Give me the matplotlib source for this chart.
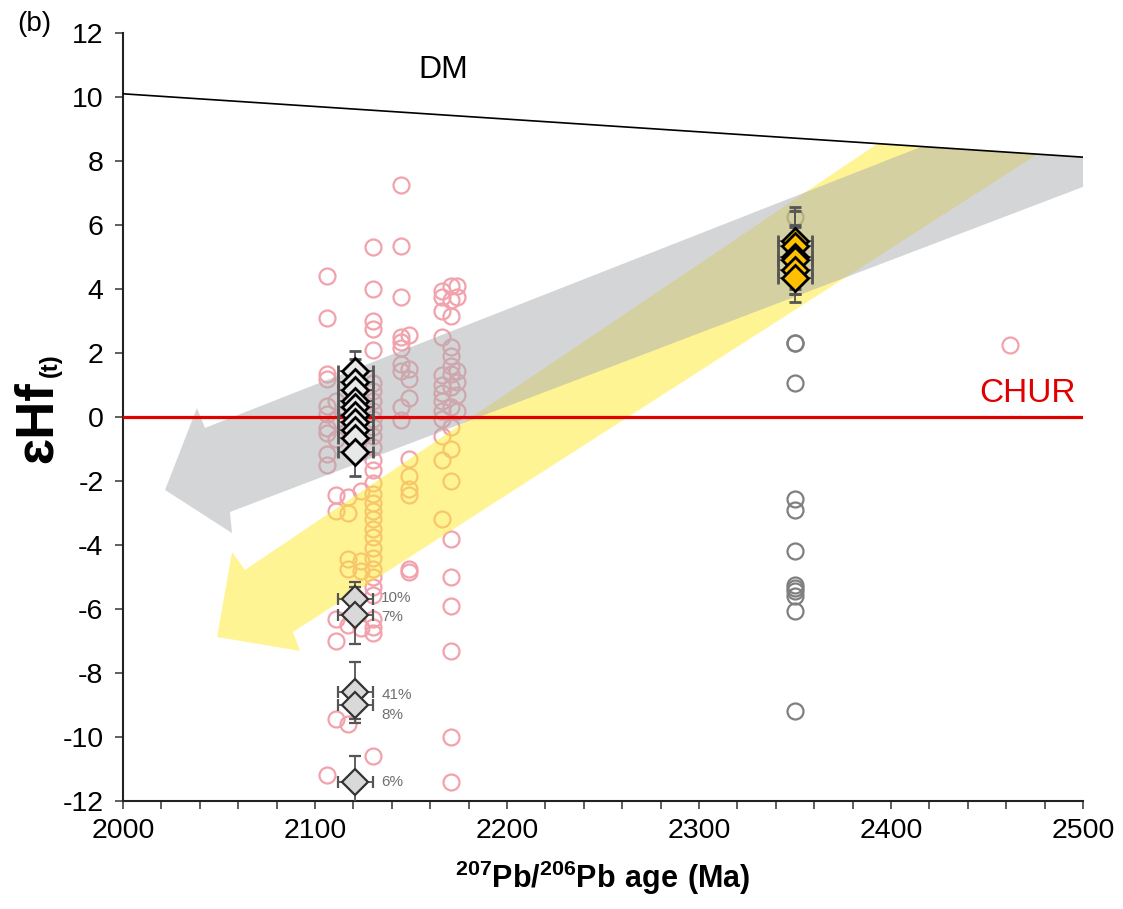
import numpy as np
import matplotlib
matplotlib.use("Agg")
import matplotlib.pyplot as plt
from matplotlib.patches import Polygon

plt.rcParams['font.family'] = ['Liberation Sans', 'DejaVu Sans']
plt.rcParams['mathtext.fontset'] = 'custom'
plt.rcParams['mathtext.rm'] = 'Liberation Sans'
plt.rcParams['mathtext.bf'] = 'Liberation Sans:bold'
plt.rcParams['axes.unicode_minus'] = False

# Pink open circles: zircon Hf data (age, eHf)
PINK_X = ([2106] * 11 + [2111] * 8 + [2117] * 6 + [2124] * 4 + [2130] * 32
          + [2145] * 10 + [2149] * 10 + [2166] * 13 + [2171] * 18 + [2174] * 6 + [2462])
PINK_Y = ([4.4, 3.1, 1.35, 1.2, 0.35, 0.1, -0.35, -0.5, -1.15, -1.5, -11.2]
          + [0.5, -0.1, -0.7, -2.45, -2.95, -6.3, -7.0, -9.45]
          + [-2.5, -3.0, -4.45, -4.75, -6.5, -9.6]
          + [-2.3, -4.5, -4.8, -6.6]
          + [5.3, 4.0, 3.0, 2.75, 2.1, 1.05, 0.8, 0.5, 0.2, -0.05, -0.3, -0.6, -0.95,
             -1.35, -1.65, -2.05, -2.4, -2.7, -2.95, -3.2, -3.5, -3.75, -4.1, -4.4,
             -4.75, -5.0, -5.3, -5.55, -6.3, -6.55, -6.75, -10.6]
          + [7.25, 5.35, 3.75, 2.5, 2.35, 2.15, 1.65, 1.45, 0.3, -0.1]
          + [2.55, 1.5, 1.2, 0.6, -1.3, -1.85, -2.25, -2.45, -4.75, -4.85]
          + [3.95, 3.75, 3.3, 2.5, 1.3, 1.0, 0.75, 0.5, 0.2, -0.05, -0.6, -1.35, -3.2]
          + [4.1, 3.65, 3.15, 2.2, 1.9, 1.6, 1.35, 0.95, 0.3, -0.3, -1.0, -2.0,
             -3.8, -5.0, -5.9, -7.3, -10.0, -11.4]
          + [4.1, 3.75, 1.45, 1.1, 0.7, 0.2]
          + [2.25])

# Grey open circles at 2350 Ma
GREY_X = [2350] * 13
GREY_Y = [6.25, 2.3, 2.3, 1.05, -2.55, -2.9, -4.2, -5.25, -5.35, -5.45, -5.6, -6.05, -9.2]

# Diamonds with error bars
UP_X = 2121
UP_Y = [1.45, 1.1, 0.85, 0.5, 0.3, 0.05, -0.15, -0.4, -0.65, -1.1]
UP_YERR = [0.6, 0.7, 0.6, 0.55, 0.6, 0.5, 0.55, 0.6, 0.55, 0.75]

LOW_Y = [-5.7, -6.2, -8.6, -9.0, -11.4]
LOW_YERR = [0.55, 0.9, 0.95, 0.45, 0.8]
LOW_LABELS = ["10%", "7%", "41%", "8%", "6%"]
LOW_LABEL_Y = [-5.65, -6.25, -8.7, -9.3, -11.4]

OR_X = 2350
OR_Y = [5.5, 5.35, 5.0, 4.9, 4.6, 4.35]
OR_YERR = [1.05, 1.1, 1.0, 1.05, 0.75, 0.75]
XERR = 9

# Reference lines
DM_X = [2000, 2500]
DM_Y = [10.1, 8.12]

# Evolution arrows (outline in data units)
GREY_ARROW_X = [2021.9, 2038.5, 2042.7, 2415.6, 2500, 2500, 2055.7, 2056.8]
GREY_ARROW_Y = [-2.28, 0.28, -0.34, 8.44, 8.12, 7.19, -2.97, -3.63]
YEL_ARROW_X = [2049.0, 2056.8, 2063.5, 2392.7, 2476, 2088.5, 2092.2]
YEL_ARROW_Y = [-6.875, -4.22, -4.78, 8.53, 8.2, -6.72, -7.31]

fig = plt.figure(figsize=(11.23, 9.09), dpi=100)
ax = fig.add_axes([123 / 1123, 1 - 801 / 909, 960 / 1123, 768 / 909])

ax.plot(PINK_X, PINK_Y, 'o', ms=11.5, mfc='none', mec='#f2a2ac', mew=1.6, zorder=1)
ax.plot(GREY_X, GREY_Y, 'o', ms=11.5, mfc='none', mec='#7f7f7f', mew=1.6, zorder=1)

ax.add_patch(Polygon(np.column_stack([YEL_ARROW_X, YEL_ARROW_Y]), closed=True,
                     fc=(1.0, 0.92, 0.16), alpha=0.5, ec='none', zorder=2))
ax.add_patch(Polygon(np.column_stack([GREY_ARROW_X, GREY_ARROW_Y]), closed=True,
                     fc=(0.667, 0.678, 0.686), alpha=0.5, ec='none', zorder=3))

ax.plot(DM_X, DM_Y, color='black', lw=1.2, zorder=4)
ax.axhline(0, color='#e00000', lw=2.3, zorder=4)

ax.errorbar([UP_X] * len(UP_Y), UP_Y, xerr=XERR, yerr=UP_YERR, fmt='D', ms=13,
            mfc='#e8e8e8', mec='black', mew=2, ecolor='#555555', elinewidth=1.3,
            capsize=4, capthick=1.3, zorder=5)
ax.errorbar([UP_X] * len(LOW_Y), LOW_Y, xerr=XERR, yerr=LOW_YERR, fmt='D', ms=13,
            mfc='#d9d9d9', mec='#333333', mew=1.6, ecolor='#555555', elinewidth=1.3,
            capsize=4, capthick=1.3, zorder=5)
ax.errorbar([OR_X] * len(OR_Y), OR_Y, xerr=XERR, yerr=OR_YERR, fmt='D', ms=13,
            mfc='#ffc000', mec='black', mew=2, ecolor='#555555', elinewidth=1.3,
            capsize=4, capthick=1.3, zorder=5)

for lab, ly in zip(LOW_LABELS, LOW_LABEL_Y):
    ax.text(2134.5, ly, lab, fontsize=11, color='#707070', ha='left', va='center', zorder=6)

ax.text(2166.7, 10.84, "DM", fontsize=23, ha='center', va='center')
ax.text(2471, 0.75, "CHUR", fontsize=24, color='#e00000', ha='center', va='center')

ax.set_xlim(2000, 2500)
ax.set_ylim(-12, 12)
ax.set_xticks(np.arange(2000, 2501, 100))
ax.set_xticks(np.arange(2000, 2501, 20), minor=True)
ax.set_yticks(np.arange(-12, 13, 2))
for s in ['top', 'right']:
    ax.spines[s].set_visible(False)
for s in ['left', 'bottom']:
    ax.spines[s].set_linewidth(1.5)
    ax.spines[s].set_color('#222222')
ax.tick_params(axis='both', which='both', direction='out', length=6, width=1.2,
               color='#444444', labelsize=20.5)
ax.tick_params(axis='y', pad=8)
ax.tick_params(axis='x', pad=6)

# y label: big epsilon-Hf with a small (t) subscript
fig.text(38 / 1123, 1 - 422 / 909, "ɛHf", fontsize=38, fontweight='bold',
         rotation=90, ha='center', va='center')
fig.text(50 / 1123, 1 - 365 / 909, "(t)", fontsize=17, fontweight='bold',
         rotation=90, ha='center', va='center')
fig.text(603 / 1123, 1 - 878 / 909, r'$\mathbf{^{207}Pb/^{206}Pb\ age\ (Ma)}$',
         fontsize=22, ha='center', va='center')
fig.text(34 / 1123, 1 - 24 / 909, "(b)", fontsize=20, ha='center', va='center')

fig.savefig("out.png", dpi=100)
